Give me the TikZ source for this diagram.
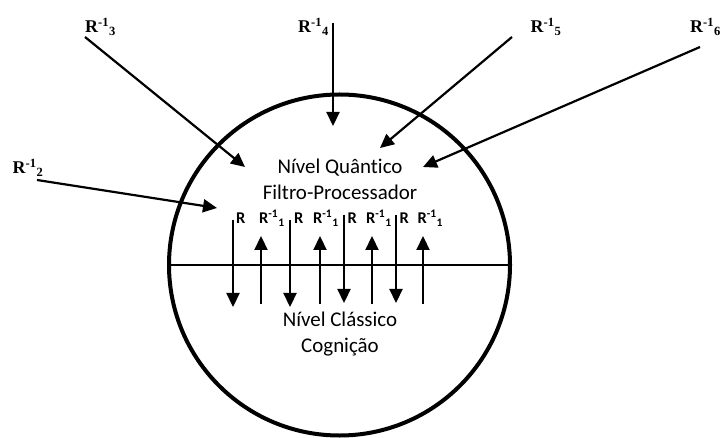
\documentclass[tikz,border=0pt]{standalone}
\usepackage{fontspec}
\setmainfont[Ligatures=NoCommon]{Carlito}
\newfontfamily\timesf{Liberation Serif}
\usetikzlibrary{arrows.meta}
\begin{document}
\begin{tikzpicture}[x=1bp,y=-1bp,
  arr/.style={line width=2.2bp,-{Triangle[length=14bp,width=13bp]}},
  extlbl/.style={font=\timesf\bfseries\fontsize{18}{18}\selectfont, inner sep=0, anchor=base west},
  innlbl/.style={font=\bfseries\fontsize{16.5}{16.5}\selectfont, inner sep=0, anchor=base west},
  bodytxt/.style={font=\fontsize{21}{22}\selectfont, inner sep=0, anchor=base}]
\useasboundingbox (0,0) rectangle (720,438);
% circle and divider
\node[draw, circle, line width=4bp, minimum size=341bp, inner sep=0, outer sep=0] (C) at (339.5,265) {};
\draw[line width=2.2bp] (C.west) -- (C.east);
% body texts
\node[bodytxt] (q1) at (340,174) {Nível Quânt\kern0pt ico};
\node[bodytxt] (q2) at (340,200) {Filtro-Processador};
\node[bodytxt] (c1) at (340,327) {Nível Clássico};
\node[bodytxt] (c2) at (340,353) {Cognição};
% external labels
\node[extlbl] (L2) at (12.5,174) {R\textsuperscript{-1}\textsubscript{2}};
\node[extlbl] (L3) at (85,33) {R\textsuperscript{-1}\textsubscript{3}};
\node[extlbl] (L4) at (298,33) {R\textsuperscript{-1}\textsubscript{4}};
\node[extlbl] (L5) at (530.5,33) {R\textsuperscript{-1}\textsubscript{5}};
\node[extlbl] (L6) at (690,33) {R\textsuperscript{-1}\textsubscript{6}};
% external arrow ends
\coordinate (s2) at (37,180);  \coordinate (t2) at (217,208);
\coordinate (s3) at (85,37);   \coordinate (t3) at (245,167);
\coordinate (s4) at (333,23);  \coordinate (t4) at (333,126);
\coordinate (s5) at (512,37);  \coordinate (t5) at (380,148);
\coordinate (s6) at (700,47);  \coordinate (t6) at (423,167);
\foreach \i in {2,...,6} { \draw[arr] (s\i) -- (t\i); }
% inner labels
\node[innlbl] (r1) at (236,224) {R};
\node[innlbl] (r2) at (294,224) {R};
\node[innlbl] (r3) at (347.3,224) {R};
\node[innlbl] (r4) at (399.3,224) {R};
\node[innlbl] (ri1) at (259,224) {R\textsuperscript{-1}\textsubscript{1}};
\node[innlbl] (ri2) at (313,224) {R\textsuperscript{-1}\textsubscript{1}};
\node[innlbl] (ri3) at (366,224) {R\textsuperscript{-1}\textsubscript{1}};
\node[innlbl] (ri4) at (417.3,224) {R\textsuperscript{-1}\textsubscript{1}};
% inner vertical arrows
\coordinate (d1a) at (233,220); \coordinate (d1b) at (233,307);
\coordinate (d2a) at (290,220); \coordinate (d2b) at (290,307);
\coordinate (d3a) at (344,215); \coordinate (d3b) at (344,303);
\coordinate (d4a) at (396,215); \coordinate (d4b) at (396,303);
\coordinate (u1a) at (261,304); \coordinate (u1b) at (261,236);
\coordinate (u2a) at (320,304); \coordinate (u2b) at (320,236);
\coordinate (u3a) at (372,304); \coordinate (u3b) at (372,236);
\coordinate (u4a) at (423,304); \coordinate (u4b) at (423,236);
\foreach \i in {1,...,4} {
  \draw[arr] (d\i a) -- (d\i b);
  \draw[arr] (u\i a) -- (u\i b);
}
\end{tikzpicture}
\end{document}
